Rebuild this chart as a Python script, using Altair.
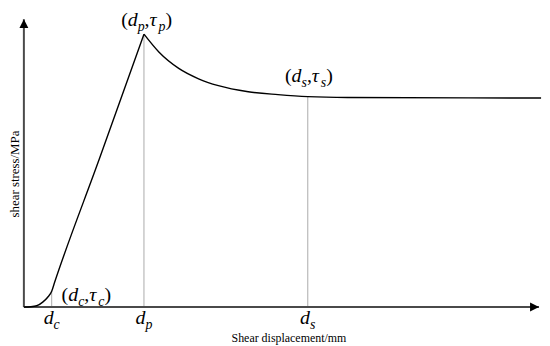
import altair as alt
import pandas as pd

# ---------------- data ----------------
# rising branch (shear displacement, shear stress) – arbitrary units
rise_x = [0.0, 0.135, 0.25, 0.366, 0.462, 0.54, 0.597, 1.464, 2.331]
rise_y = [0.0, 0.001, 0.0045, 0.017, 0.034, 0.055, 0.086, 0.514, 0.948]
# softening branch and residual plateau
decay_x = [2.331, 2.620, 3.006, 3.391, 3.776, 4.355, 4.933, 5.511, 6.281, 10.04]
decay_y = [0.948, 0.886, 0.829, 0.793, 0.769, 0.748, 0.738, 0.731, 0.728, 0.726]

# characteristic points
key_names = ["c", "p", "s"]
key_d = [0.54, 2.331, 5.511]
key_tau = [0.055, 0.948, 0.731]

x_title = "Shear displacement/mm"
y_title = "shear stress/MPa"

# ---------------- layout ----------------
W, H = 519, 290
XMAX, YMAX = 10.0, 1.0
FONT = "Liberation Serif"
MAIN, SUB = 20, 14


def ox(px):
    return px * XMAX / W


def oy(px):  # px measured downward
    return -px * YMAX / H


xs = alt.Scale(domain=[0, XMAX], nice=False, zero=False)
ys = alt.Scale(domain=[0, YMAX], nice=False, zero=False)

curve = pd.DataFrame(
    {"x": rise_x + decay_x,
     "y": rise_y + decay_y,
     "seg": ["rise"] * len(rise_x) + ["decay"] * len(decay_x),
     "order": list(range(len(rise_x))) + list(range(len(decay_x)))}
)
keys = pd.DataFrame({"n": key_names, "d": key_d, "tau": key_tau, "zero": [0.0] * 3})

axes_df = pd.DataFrame({"x": [0.0, 0.0], "y": [0.0, 0.0], "x2": [0.0, XMAX], "y2": [YMAX, 0.0]})
arrow_r = 4.5
arrows_df = pd.DataFrame({
    "x": [0.0, XMAX - ox(arrow_r)],
    "y": [YMAX + oy(arrow_r), 0.0],
    "shape": ["M0,-1L1,1L-1,1Z", "M1,0L-1,-1L-1,1Z"],
})

# ---------------- label pieces ----------------
W_PAREN, W_D, W_COMMA, W_TAU = 0.333 * MAIN, 0.5 * MAIN, 0.25 * MAIN, 0.45 * MAIN
SUBW = {"p": 0.5 * SUB, "s": 0.389 * SUB, "c": 0.444 * SUB}
SUB_DROP = 5
upright, italic, subs = [], [], []


def point_label(x0, y0, dx, dy, s):
    cx = x0 + ox(dx)
    by = y0 + oy(dy)
    sy = y0 + oy(dy + SUB_DROP)
    cur = 0.0
    upright.append({"x": cx + ox(cur), "y": by, "t": "("}); cur += W_PAREN
    italic.append({"x": cx + ox(cur), "y": by, "t": "d"}); cur += W_D
    subs.append({"x": cx + ox(cur), "y": sy, "t": s}); cur += SUBW[s]
    upright.append({"x": cx + ox(cur), "y": by, "t": ","}); cur += W_COMMA
    italic.append({"x": cx + ox(cur), "y": by, "t": "τ"}); cur += W_TAU
    subs.append({"x": cx + ox(cur), "y": sy, "t": s}); cur += SUBW[s]
    upright.append({"x": cx + ox(cur), "y": by, "t": ")"})


def tick_label(x0, s):
    w = W_D + SUBW[s]
    cx = x0 + ox(-w / 2)
    italic.append({"x": cx, "y": oy(17), "t": "d"})
    subs.append({"x": cx + ox(W_D), "y": oy(17 + SUB_DROP), "t": s})


offsets = {"c": (10, 10), "p": (-23, -8), "s": (-23, -15)}
for n, d, t in zip(key_names, key_d, key_tau):
    point_label(d, t, offsets[n][0], offsets[n][1], n)
    tick_label(d, n)

titles_df = pd.DataFrame({
    "x": [ox(291 - 24), ox(15 - 24)],
    "y": [oy(339 - 308), YMAX + oy(174 - 18)],
    "t": [x_title, y_title],
})

# ---------------- layers ----------------
guides = alt.Chart(keys).mark_rule(color="#aaaaaa", strokeWidth=1).encode(
    x=alt.X("d:Q", scale=xs, axis=None),
    y=alt.Y("zero:Q", scale=ys, axis=None),
    y2="tau:Q",
)

axes = alt.Chart(axes_df).mark_rule(color="#4a4a4a", strokeWidth=2).encode(
    x=alt.X("x:Q", scale=xs, axis=None), x2="x2:Q",
    y=alt.Y("y:Q", scale=ys, axis=None), y2="y2:Q",
)

arrows = alt.Chart(arrows_df).mark_point(filled=True, color="black", opacity=1, size=81, strokeWidth=0).encode(
    x=alt.X("x:Q", scale=xs, axis=None),
    y=alt.Y("y:Q", scale=ys, axis=None),
    shape=alt.Shape("shape:N", scale=None),
)

line = alt.Chart(curve).mark_line(color="black", strokeWidth=1.4, interpolate="monotone").encode(
    x=alt.X("x:Q", scale=xs, axis=None),
    y=alt.Y("y:Q", scale=ys, axis=None),
    detail="seg:N",
    order="order:Q",
)


def text_layer(rows, size, style):
    return alt.Chart(pd.DataFrame(rows)).mark_text(
        align="left", baseline="alphabetic", font=FONT, fontSize=size, fontStyle=style, color="black"
    ).encode(
        x=alt.X("x:Q", scale=xs, axis=None),
        y=alt.Y("y:Q", scale=ys, axis=None),
        text="t:N",
    )


t_up = text_layer(upright, MAIN, "normal")
t_it = text_layer(italic, MAIN, "italic")
t_sub = text_layer(subs, SUB, "italic")

x_tt = alt.Chart(titles_df.iloc[[0]]).mark_text(
    align="center", baseline="middle", font=FONT, fontSize=12, color="black"
).encode(x=alt.X("x:Q", scale=xs, axis=None), y=alt.Y("y:Q", scale=ys, axis=None), text="t:N")

y_tt = alt.Chart(titles_df.iloc[[1]]).mark_text(
    align="center", baseline="middle", font=FONT, fontSize=13, angle=270, color="black"
).encode(x=alt.X("x:Q", scale=xs, axis=None), y=alt.Y("y:Q", scale=ys, axis=None), text="t:N")

chart = alt.layer(guides, axes, arrows, line, t_up, t_it, t_sub, x_tt, y_tt).properties(
    width=W, height=H,
    padding={"left": 16, "top": 10, "right": 3, "bottom": 38},
    autosize=alt.AutoSizeParams(type="none"),
).configure_view(stroke=None)

chart.save("out.html", embed_options={"renderer": "svg", "actions": False})
